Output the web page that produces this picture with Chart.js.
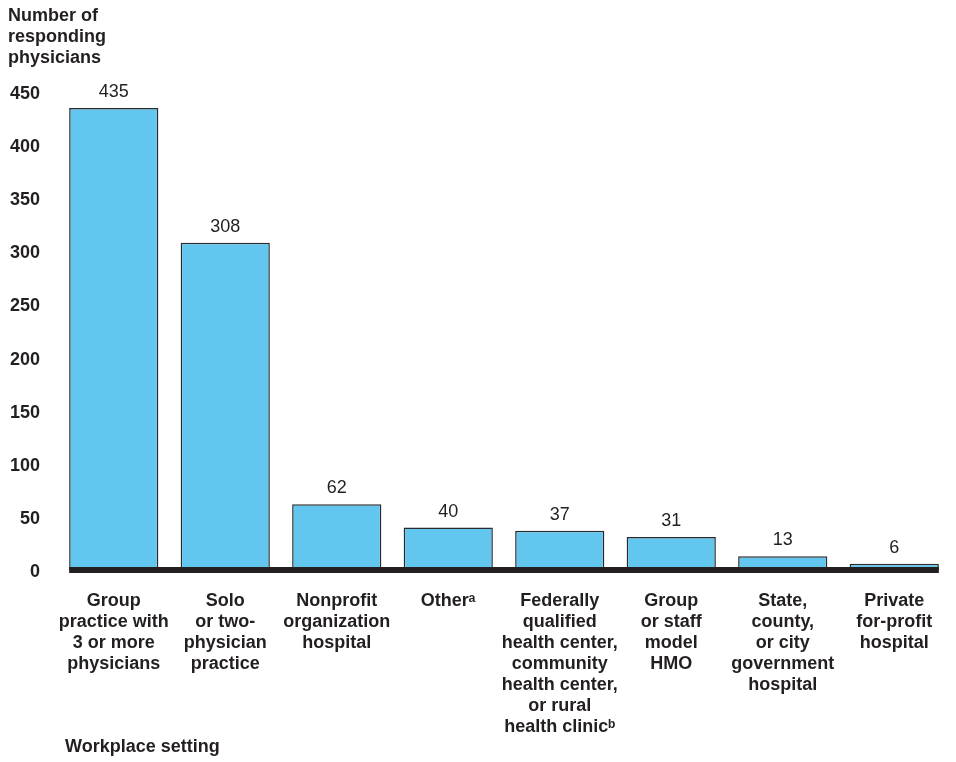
<!DOCTYPE html>
<html>
<head>
<meta charset="utf-8">
<title>Workplace setting of responding physicians</title>
<script src="https://cdn.jsdelivr.net/npm/chart.js@4.4.1/dist/chart.umd.min.js"></script>
<style>
  html, body { margin: 0; padding: 0; background: #fff; }
  #wrap { width: 956px; height: 762px; }
</style>
</head>
<body>
<div id="wrap"><canvas id="settingChart" width="956" height="762"></canvas></div>
<script>
// workplace settings (multi-line tick labels)
const settings = [
  ["Group", "practice with", "3 or more", "physicians"],
  ["Solo", "or two-", "physician", "practice"],
  ["Nonprofit", "organization", "hospital"],
  ["Other\u1D43"],
  ["Federally", "qualified", "health center,", "community", "health center,", "or rural", "health clinic\u1D47"],
  ["Group", "or staff", "model", "HMO"],
  ["State,", "county,", "or city", "government", "hospital"],
  ["Private", "for-profit", "hospital"]
];
const physicians = [435, 308, 62, 40, 37, 31, 13, 6];
const yTicks = [0, 50, 100, 150, 200, 250, 300, 350, 400, 450];

const textColor = "#231f20";
const fontFamily = "'Liberation Sans', Arial, Helvetica, sans-serif";

// value labels, thick zero line and the x axis caption
const extras = {
  id: "extras",
  afterDatasetsDraw(chart) {
    const ctx = chart.ctx;
    const bars = chart.getDatasetMeta(0).data;
    const y0 = chart.scales.y.getPixelForValue(0);

    ctx.save();
    ctx.fillStyle = textColor;
    ctx.font = "18px " + fontFamily;
    ctx.textAlign = "center";
    ctx.textBaseline = "alphabetic";
    bars.forEach((bar, i) => {
      ctx.fillText(String(physicians[i]), bar.x, bar.y - 11);
    });

    const first = bars[0], last = bars[bars.length - 1];
    const x1 = first.x - first.width / 2, x2 = last.x + last.width / 2;
    ctx.fillStyle = "#231f20";
    ctx.fillRect(x1, y0 - 3, x2 - x1, 6);

    ctx.fillStyle = textColor;
    ctx.font = "bold 18px " + fontFamily;
    ctx.textAlign = "left";
    ctx.textBaseline = "middle";
    ctx.fillText("Workplace setting", chart.chartArea.left + 7, 747);
    ctx.restore();
  }
};

const ctx = document.getElementById("settingChart").getContext("2d");
const chart = new Chart(ctx, {
  type: "bar",
  data: {
    labels: settings,
    datasets: [{
      label: "Number of responding physicians",
      data: physicians,
      backgroundColor: "#62c6ef",
      borderColor: "#2b2b2b",
      borderWidth: 1.5,
      barPercentage: 0.8,
      categoryPercentage: 1.0
    }]
  },
  options: {
    responsive: false,
    animation: false,
    layout: { padding: { left: 8, right: 6, top: 0, bottom: 0 } },
    plugins: {
      legend: { display: false },
      tooltip: { enabled: false },
      title: {
        display: true,
        text: ["Number of", "responding", "physicians"],
        align: "start",
        color: textColor,
        font: { family: fontFamily, size: 18, weight: "bold", lineHeight: 21 / 18 },
        padding: { top: 6, bottom: 23 }
      }
    },
    scales: {
      x: {
        grid: { display: false, drawTicks: false },
        border: { display: false },
        ticks: {
          color: textColor,
          font: { family: fontFamily, size: 18, weight: "bold", lineHeight: 21 / 18 },
          padding: 21,
          maxRotation: 0,
          autoSkip: false
        },
        afterFit(scale) { scale.height = 192; }
      },
      y: {
        min: 0,
        max: 450,
        grid: { display: false, drawTicks: false },
        border: { display: false },
        afterBuildTicks(scale) { scale.ticks = yTicks.map(v => ({ value: v })); },
        ticks: {
          color: textColor,
          font: { family: fontFamily, size: 18, weight: "bold" },
          padding: 18,
          labelOffset: 2
        },
        afterFit(scale) { scale.width = 50; }
      }
    }
  },
  plugins: [extras]
});
</script>
</body>
</html>
